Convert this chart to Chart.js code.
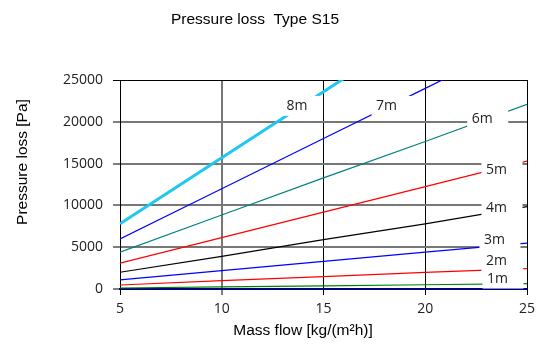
<!DOCTYPE html>
<html>
<head>
<meta charset="utf-8">
<script src="https://cdn.jsdelivr.net/npm/chart.js@4/dist/chart.umd.min.js"></script>
<style>
  html, body { margin: 0; padding: 0; background: #fff; }
</style>
</head>
<body>
<canvas id="lossChart" width="539" height="347"></canvas>
<script>
// mass flow [kg/(m2h)]
const massFlow = [5, 10, 15, 20, 25];

// pressure loss [Pa] per pipe length
const loss8m = [7800, 15700, 23600, 31500, 39400];
const loss7m = [6000, 12000, 18000, 24000, 30000];
const loss6m = [4400, 8850, 13300, 17650, 22100];
const loss5m = [3100, 6150, 9200, 12250, 15300];
const loss4m = [2000, 3900, 5900, 7800, 9850];
const loss3m = [1100, 2200, 3300, 4400, 5480];
const loss2m = [480, 1000, 1480, 1980, 2430];
const loss1m = [120, 250, 380, 510, 640];

const seriesNames = ["8m", "7m", "6m", "5m", "4m", "3m", "2m", "1m"];

// where each curve name sits (mass flow, pressure loss)
const labelFlow = [13.7, 18.1, 22.8, 23.5, 23.5, 23.4, 23.5, 23.55];
const labelLoss = [21900, 21900, 20350, 14200, 9700, 5900, 3300, 1250];

const xTicks = [5, 10, 15, 20, 25];
const yTicks = [0, 5000, 10000, 15000, 20000, 25000];

const colors = ["#1ec8f0", "#0000ff", "#008080", "#ff0000",
                "#000000", "#0000ff", "#ff0000", "#008000"];

const allSeries = [loss8m, loss7m, loss6m, loss5m, loss4m, loss3m, loss2m, loss1m];

const datasets = allSeries.map((values, i) => ({
    label: seriesNames[i],
    data: values.map((v, j) => ({ x: massFlow[j], y: v })),
    borderColor: colors[i],
    borderWidth: i === 0 ? 3 : 1.2,
    pointRadius: 0,
    tension: 0
}));

// curve names with white boxes
const curveLabels = {
    id: "curveLabels",
    afterDatasetsDraw(chart) {
        const ctx = chart.ctx;
        const xs = chart.scales.x;
        const ys = chart.scales.y;
        ctx.save();
        ctx.font = '14px "Open Sans"';
        ctx.textAlign = "center";
        ctx.textBaseline = "middle";
        seriesNames.forEach((name, i) => {
            const px = xs.getPixelForValue(labelFlow[i]);
            const py = ys.getPixelForValue(labelLoss[i]);
            ctx.fillStyle = "#fff";
            ctx.fillRect(px - 15, py - 10, 41, 20);
            ctx.fillStyle = "#222";
            ctx.fillText(name, px, py);
        });
        ctx.restore();
    }
};

// titles
const titles = {
    id: "titles",
    afterDraw(chart) {
        const ctx = chart.ctx;
        ctx.save();
        ctx.fillStyle = "#000";
        ctx.font = '15.5px "Liberation Sans"';
        ctx.textAlign = "center";
        ctx.textBaseline = "middle";
        ctx.fillText("Pressure loss  Type S15", 255, 19.5);
        ctx.fillText("Mass flow [kg/(m²h)]", 303, 331);
        ctx.translate(23, 162);
        ctx.rotate(-Math.PI / 2);
        ctx.fillText("Pressure loss [Pa]", 0, 0);
        ctx.restore();
    }
};

new Chart(document.getElementById("lossChart"), {
    type: "line",
    data: { datasets: datasets },
    options: {
        responsive: false,
        animation: false,
        layout: { padding: { top: 80, right: 12, left: 0, bottom: 0 } },
        plugins: {
            legend: { display: false },
            tooltip: { enabled: false },
            title: { display: false }
        },
        scales: {
            x: {
                type: "linear",
                min: 5,
                max: 25,
                afterBuildTicks: s => { s.ticks = xTicks.map(v => ({ value: v })); },
                afterFit: s => {
                    s.height = 58;
                    s.paddingLeft = 0;
                    s.paddingRight = 0;
                },
                border: { color: "#000080", width: 2 },
                grid: {
                    color: c => c.tick.value === 10 ? "#777" : "#000",
                    lineWidth: c => c.tick.value === 10 ? 2 : 1,
                    tickColor: "#000",
                    tickWidth: 1,
                    tickLength: 6
                },
                ticks: {
                    padding: 6,
                    color: "#222",
                    font: { family: "Open Sans", size: 14 },
                    callback: v => String(v)
                }
            },
            y: {
                min: 0,
                max: 25000,
                afterBuildTicks: s => { s.ticks = yTicks.map(v => ({ value: v })); },
                afterFit: s => { s.width = 120; },
                border: { color: "#000", width: 1 },
                grid: {
                    color: c => c.tick.value === 25000 ? "#000" : (c.tick.value === 0 ? "#000080" : "#777"),
                    lineWidth: c => (c.tick.value === 25000 ? 1 : 2),
                    tickColor: "#000",
                    tickWidth: 1,
                    tickLength: 7
                },
                ticks: {
                    padding: 10,
                    color: "#222",
                    font: { family: "Open Sans", size: 14 },
                    callback: v => String(v)
                }
            }
        }
    },
    plugins: [curveLabels, titles]
});
</script>
</body>
</html>
